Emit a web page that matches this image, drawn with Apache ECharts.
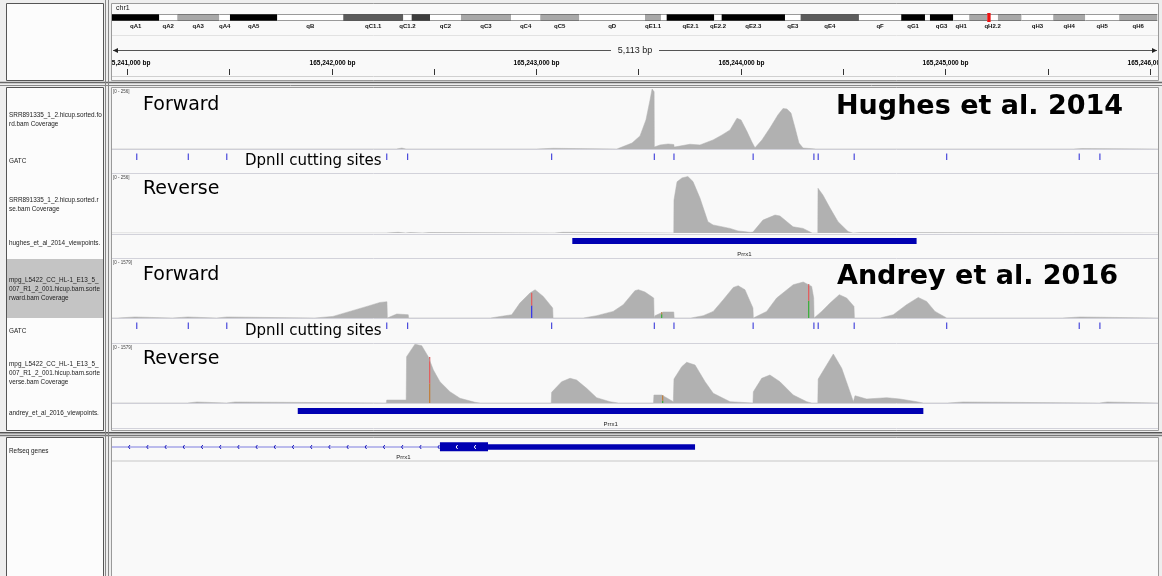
<!DOCTYPE html>
<html>
<head>
<meta charset="utf-8">
<script src="https://cdn.jsdelivr.net/npm/echarts@6/dist/echarts.min.js"></script>
<style>
  html, body { margin: 0; padding: 0; background: #eeeeee; }
  #chart { width: 1162px; height: 576px; }
</style>
</head>
<body>
<div id="chart"></div>
<script>
// visible window on chr1 (bp)
const viewStart = 165240927;
const viewEnd = 165246040;
const chrLengthMb = 197.1;

// chr1 cytobands: end (Mb), name, stain
const bandEnds = [8.91, 12.30, 20.22, 22.23, 31.15, 43.58, 54.89, 56.47, 59.92, 65.76, 75.18, 80.70, 88.05,
  100.43, 103.44, 104.52, 113.49, 114.88, 126.81, 129.76, 140.75, 148.72, 153.19, 154.13, 158.52, 161.53,
  164.93, 166.94, 171.40, 177.36, 183.39, 189.79, 196.96];
const bandNames = ['qA1', 'qA2', 'qA3', 'qA4', 'qA5', 'qB', 'qC1.1', 'qC1.2', 'qC1.3', 'qC2', 'qC3', 'qC4', 'qC5',
  'qD', 'qE1.1', 'qE1.2', 'qE2.1', 'qE2.2', 'qE2.3', 'qE3', 'qE4', 'qF', 'qG1', 'qG2', 'qG3', 'qH1',
  'qH2.1', 'qH2.2', 'qH2.3', 'qH3', 'qH4', 'qH5', 'qH6'];
const bandStains = ['gpos100', 'gneg', 'gpos33', 'gneg', 'gpos100', 'gneg', 'gpos66', 'gneg', 'gpos75', 'gneg', 'gpos33', 'gneg', 'gpos33',
  'gneg', 'gpos33', 'gneg', 'gpos100', 'gneg', 'gpos100', 'gneg', 'gpos66', 'gneg', 'gpos100', 'gneg', 'gpos100', 'gneg',
  'gpos33', 'gneg', 'gpos33', 'gneg', 'gpos33', 'gneg', 'gpos33'];
const hiddenBandLabels = ['qC1.3', 'qE1.2', 'qG2', 'qH2.1', 'qH2.3'];

// ruler ticks (bp) and the ones that carry a label
const rulerTicks = [165241000, 165241500, 165242000, 165242500, 165243000, 165243500,
  165244000, 165244500, 165245000, 165245500, 165246000];
const rulerLabelTicks = [165241000, 165242000, 165243000, 165244000, 165245000, 165246000];

// coverage profiles: [offset from viewStart (bp), depth]
const hughesFwd = [[0, 0], [1390, 0], [1398, 0], [1417, 4], [1437, 0], [2075, 0], [2082, 3], [2155, 3], [2160, 0],
  [2468, 0], [2542, 25], [2581, 55], [2610, 122], [2630, 206], [2640, 252], [2650, 240], [2651, 8], [2679, 17],
  [2718, 21], [2746, 19], [2748, 8], [2757, 15], [2825, 20], [2874, 17], [2938, 38], [2982, 59], [3021, 80],
  [3055, 129], [3075, 122], [3104, 73], [3128, 29], [3143, 5], [3177, 38], [3216, 88], [3255, 143], [3280, 170],
  [3299, 168], [3319, 151], [3339, 88], [3358, 25], [3378, 4], [3412, 2], [3441, 0], [4700, 0], [4702, 2],
  [4741, 2], [4745, 0], [5113, 0]];
const hughesRev = [[0, 0], [1340, 0], [1344, 3], [1398, 3], [1400, 0], [1435, 0], [1437, 2], [1457, 2], [1459, 0],
  [1518, 0], [1520, 2], [1554, 2], [1556, 0], [2163, 0], [2165, 3], [2204, 3], [2206, 0], [2746, 0], [2747, 143],
  [2762, 222], [2786, 239], [2815, 245], [2840, 223], [2874, 152], [2913, 49], [2938, 35], [3021, 20], [3060, 9],
  [3119, 3], [3133, 4], [3182, 56], [3241, 78], [3265, 74], [3329, 27], [3378, 20], [3422, 0], [3450, 0],
  [3451, 194], [3475, 165], [3510, 108], [3549, 49], [3598, 6], [3622, 0], [3624, 2], [3656, 2], [3658, 0], [5113, 0]];
const andreyFwd = [[0, 0], [27, 0], [29, 27], [112, 27], [114, 0], [296, 0], [298, 27], [371, 27], [373, 0],
  [511, 0], [513, 27], [562, 27], [564, 0], [992, 0], [1080, 43], [1163, 177], [1246, 310], [1310, 417],
  [1344, 436], [1346, 0], [1351, 43], [1392, 107], [1448, 88], [1450, 0], [1850, 0], [1856, 35], [1954, 88],
  [1994, 401], [2043, 669], [2068, 757], [2108, 578], [2154, 268], [2156, 0], [2304, 0], [2369, 62], [2450, 177],
  [2499, 356], [2556, 731], [2573, 757], [2605, 696], [2648, 535], [2650, 0], [2654, 62], [2695, 161], [2746, 161],
  [2748, 0], [2830, 0], [2834, 35], [2890, 62], [2939, 177], [2988, 490], [3037, 819], [3061, 864], [3094, 757],
  [3133, 268], [3135, 0], [3143, 35], [3200, 177], [3249, 535], [3330, 891], [3379, 963], [3420, 846], [3430, 535],
  [3432, 0], [3441, 43], [3469, 177], [3510, 401], [3555, 624], [3591, 535], [3627, 310], [3629, 0], [3755, 0],
  [3762, 35], [3819, 88], [3884, 356], [3941, 551], [3982, 444], [4023, 177], [4080, 0], [4646, 0], [4648, 27],
  [4732, 27], [4734, 0], [5113, 0]];
const andreyRev = [[0, 0], [369, 0], [371, 27], [415, 27], [417, 0], [560, 0], [562, 27], [601, 27], [603, 0],
  [1341, 0], [1343, 80], [1438, 80], [1440, 1239], [1481, 1575], [1514, 1533], [1546, 1239], [1571, 883],
  [1603, 570], [1652, 302], [1701, 126], [1774, 19], [1799, 0], [2147, 0], [2149, 286], [2198, 570], [2239, 661],
  [2271, 615], [2320, 393], [2369, 142], [2434, 35], [2475, 0], [2647, 0], [2649, 214], [2687, 214], [2744, 35],
  [2746, 0], [2747, 642], [2785, 971], [2809, 1089], [2850, 1017], [2899, 570], [2939, 260], [3021, 35], [3029, 0],
  [3133, 0], [3135, 302], [3176, 661], [3216, 749], [3265, 570], [3330, 214], [3396, 35], [3420, 0], [3450, 0],
  [3452, 642], [3526, 1311], [3567, 929], [3624, 35], [3632, 195], [3689, 107], [3787, 142], [3852, 107],
  [3933, 35], [3966, 0], [4084, 0], [4086, 27], [4160, 27], [4162, 0], [4827, 0], [4829, 27], [4864, 27],
  [4866, 0], [5113, 0]];

// mismatch bars: [offset, base, from depth, to depth]
const andreyFwdMismatch = [[2047, 'C', 0, 337], [2047, 'T', 337, 677], [2683, 'A', 0, 100], [2683, 'G', 100, 161],
  [3401, 'A', 0, 463], [3401, 'T', 463, 910]];
const andreyRevMismatch = [[1551, 'G', 0, 525], [1551, 'T', 525, 1230], [2687, 'A', 0, 60], [2687, 'G', 60, 214]];

// DpnII (GATC) sites, offsets from viewStart
const gatcSites = [121, 373, 561, 1343, 1445, 2149, 2651, 2747, 3134, 3431, 3452, 3628, 4080, 4728, 4829];

// viewpoint fragments [start, end] offsets
const hughesViewpoint = [2250, 3933];
const andreyViewpoint = [908, 3966];
const viewpointName = 'Prrx1';

// RefSeq gene model (offsets)
const geneName = 'Prrx1';
const geneIntron = [-4000, 1603];
const geneCds = [1603, 1838];
const geneUtr = [1838, 2850];

const stainColor = { gneg: '#ffffff', gpos33: '#a8a8a8', gpos66: '#5c5c5c', gpos75: '#3c3c3c', gpos100: '#000000' };
const baseColor = { A: '#3fae3f', C: '#3a3ae6', G: '#c08040', T: '#e06060' };
const covColor = '#b1b1b1';
const featColor = '#0000b2';
const font = '"Liberation Sans", Arial, sans-serif';
const djv = '"DejaVu Sans", sans-serif';

const fmtBp = n => n.toString().replace(/\B(?=(\d{3})+(?!\d))/g, ',') + ' bp';

const layout = [
  { top: 14, height: 7 },   // ideogram
  { top: 40, height: 36 },  // ruler
  { top: 88, height: 61 },  // Hughes forward
  { top: 150, height: 23 }, // GATC
  { top: 174, height: 59 }, // Hughes reverse
  { top: 234, height: 24 }, // Hughes viewpoint
  { top: 259, height: 59 }, // Andrey forward
  { top: 319, height: 24 }, // GATC
  { top: 344, height: 59 }, // Andrey reverse
  { top: 404, height: 24 }, // Andrey viewpoint
  { top: 438, height: 24 }  // RefSeq genes
];
const yMax = [1, 1, 256, 1, 256, 1, 1579, 1, 1579, 1, 1];

function txt(text, x, y, f, fill, align) {
  return { text, x, y, font: f, fill: fill || '#000', align: align || 'left', textAlign: align || 'left',
    verticalAlign: 'middle', textVerticalAlign: 'middle' };
}

function coverage(idx, pairs) {
  return {
    type: 'line', xAxisIndex: idx, yAxisIndex: idx, silent: true, clip: true,
    data: pairs.map(p => [viewStart + p[0], p[1]]),
    symbol: 'none', showSymbol: false,
    lineStyle: { color: covColor, width: 0.5 },
    areaStyle: { color: covColor, opacity: 1 }
  };
}

function mismatches(idx, rows) {
  return {
    type: 'custom', xAxisIndex: idx, yAxisIndex: idx, silent: true, clip: true, z: 3,
    data: rows.map(r => [viewStart + r[0], r[2], r[3]]),
    encode: { x: 0, y: [1, 2] },
    renderItem(params, api) {
      const r = rows[params.dataIndex];
      const a = api.coord([api.value(0), api.value(1)]);
      const b = api.coord([api.value(0), api.value(2)]);
      return { type: 'rect', shape: { x: Math.round(a[0]), y: b[1], width: 1.3, height: a[1] - b[1] },
        style: { fill: baseColor[r[1]] } };
    }
  };
}

function gatc(idx) {
  return {
    type: 'custom', xAxisIndex: idx, yAxisIndex: idx, silent: true, clip: true,
    data: gatcSites.map(s => [viewStart + s, 0]),
    encode: { x: 0, y: 1 },
    renderItem(params, api) {
      const x = api.coord([api.value(0), 0])[0];
      const cs = params.coordSys;
      return { type: 'rect', shape: { x: x - 0.6, y: cs.y + 3.5, width: 1.2, height: 6.5 },
        style: { fill: '#4a4adc' } };
    }
  };
}

function viewpoint(idx, span) {
  return {
    type: 'custom', xAxisIndex: idx, yAxisIndex: idx, silent: true, clip: true,
    data: [[viewStart + span[0], viewStart + span[1]]],
    encode: { x: [0, 1] },
    renderItem(params, api) {
      const a = api.coord([api.value(0), 0])[0];
      const b = api.coord([api.value(1), 0])[0];
      const cs = params.coordSys;
      return { type: 'group', children: [
        { type: 'rect', shape: { x: a, y: cs.y + 4, width: b - a, height: 6 }, style: { fill: featColor } },
        { type: 'text', style: txt(viewpointName, (a + b) / 2, cs.y + 20, '6px ' + font, '#222', 'center') }
      ] };
    }
  };
}

const series = [
  // ideogram bands
  {
    type: 'custom', xAxisIndex: 0, yAxisIndex: 0, silent: true,
    data: bandEnds.map((e, i) => [i === 0 ? 0 : bandEnds[i - 1], e]),
    encode: { x: [0, 1] },
    renderItem(params, api) {
      const i = params.dataIndex;
      const a = api.coord([api.value(0), 0])[0];
      const b = api.coord([api.value(1), 0])[0];
      const cs = params.coordSys;
      const children = [
        { type: 'rect', shape: { x: a, y: cs.y, width: b - a, height: cs.height }, style: { fill: stainColor[bandStains[i]] } },
        { type: 'line', shape: { x1: a, y1: cs.y + 0.5, x2: b, y2: cs.y + 0.5 }, style: { stroke: '#555', lineWidth: 0.6 } },
        { type: 'line', shape: { x1: a, y1: cs.y + cs.height - 0.5, x2: b, y2: cs.y + cs.height - 0.5 }, style: { stroke: '#555', lineWidth: 0.6 } }
      ];
      if (!hiddenBandLabels.includes(bandNames[i])) {
        children.push({ type: 'text', style: txt(bandNames[i], (a + b) / 2, cs.y + cs.height + 5.5, 'bold 6px ' + font, '#111', 'center') });
      }
      return { type: 'group', children };
    }
  },
  // current view marker on the ideogram
  {
    type: 'custom', xAxisIndex: 0, yAxisIndex: 0, silent: true, z: 4,
    data: [[viewStart / 1e6, viewEnd / 1e6]],
    encode: { x: [0, 1] },
    renderItem(params, api) {
      const a = api.coord([api.value(0), 0])[0];
      const b = api.coord([api.value(1), 0])[0];
      const w = Math.max(b - a, 3.4);
      const cs = params.coordSys;
      return { type: 'rect', shape: { x: (a + b) / 2 - w / 2, y: cs.y - 1, width: w, height: cs.height + 2 }, style: { fill: '#ee1111' } };
    }
  },
  // ruler ticks and labels
  {
    type: 'custom', xAxisIndex: 1, yAxisIndex: 1, silent: true, clip: true,
    data: rulerTicks.map(t => [t, 0]),
    encode: { x: 0, y: 1 },
    renderItem(params, api) {
      const t = api.value(0);
      const x = Math.round(api.coord([t, 0])[0]) + 0.5;
      const cs = params.coordSys;
      const bottom = cs.y + cs.height;
      const children = [{ type: 'line', shape: { x1: x, y1: bottom - 7, x2: x, y2: bottom - 1 }, style: { stroke: '#333', lineWidth: 1 } }];
      if (rulerLabelTicks.includes(t)) {
        children.push({ type: 'text', style: txt(fmtBp(t), x, bottom - 13, 'bold 6.5px ' + font, '#000', 'center') });
      }
      return { type: 'group', children };
    }
  },
  // span arrow with length
  {
    type: 'custom', xAxisIndex: 1, yAxisIndex: 1, silent: true,
    data: [[viewStart, viewEnd]],
    encode: { x: [0, 1] },
    renderItem(params, api) {
      const a = api.coord([api.value(0), 0])[0];
      const b = api.coord([api.value(1), 0])[0];
      const y = params.coordSys.y + 10.5;
      const c = (a + b) / 2;
      const ln = { stroke: '#555', lineWidth: 1 };
      return { type: 'group', children: [
        { type: 'line', shape: { x1: a + 1, y1: y, x2: c - 24, y2: y }, style: ln },
        { type: 'line', shape: { x1: c + 24, y1: y, x2: b - 1, y2: y }, style: ln },
        { type: 'polygon', shape: { points: [[a + 1, y], [a + 6, y - 2.5], [a + 6, y + 2.5]] }, style: { fill: '#222' } },
        { type: 'polygon', shape: { points: [[b - 1, y], [b - 6, y - 2.5], [b - 6, y + 2.5]] }, style: { fill: '#222' } },
        { type: 'text', style: txt(fmtBp(viewEnd - viewStart), c, y + 0.5, '9px ' + font, '#222', 'center') }
      ] };
    }
  },
  coverage(2, hughesFwd),
  gatc(3),
  coverage(4, hughesRev),
  viewpoint(5, hughesViewpoint),
  coverage(6, andreyFwd),
  mismatches(6, andreyFwdMismatch),
  gatc(7),
  coverage(8, andreyRev),
  mismatches(8, andreyRevMismatch),
  viewpoint(9, andreyViewpoint),
  // RefSeq gene model
  {
    type: 'custom', xAxisIndex: 10, yAxisIndex: 10, silent: true, clip: true,
    data: [[viewStart + geneIntron[0], viewStart + geneIntron[1], viewStart + geneCds[1], viewStart + geneUtr[1]]],
    encode: { x: [0, 3] },
    renderItem(params, api) {
      const cs = params.coordSys;
      const x0 = api.coord([api.value(0), 0])[0];
      const x1 = api.coord([api.value(1), 0])[0];
      const x2 = api.coord([api.value(2), 0])[0];
      const x3 = api.coord([api.value(3), 0])[0];
      const y = cs.y + 9;
      const children = [
        { type: 'line', shape: { x1: x0, y1: y, x2: x1, y2: y }, style: { stroke: '#7f7fe0', lineWidth: 1.2 } },
        { type: 'rect', shape: { x: x1, y: cs.y + 4.3, width: x2 - x1, height: 9 }, style: { fill: featColor } },
        { type: 'rect', shape: { x: x2, y: cs.y + 6.3, width: x3 - x2, height: 5.5 }, style: { fill: featColor } }
      ];
      for (let ax = cs.x + 16.5; ax < x2 - 4; ax += 18.2) {
        const inCds = ax > x1 + 2;
        children.push({ type: 'polyline', shape: { points: [[ax + 1.5, y - 2], [ax, y], [ax + 1.5, y + 2]] },
          style: { stroke: inCds ? '#ffffff' : '#1c1cc0', lineWidth: 1, fill: null } });
      }
      const vx0 = Math.max(x0, cs.x), vx1 = Math.min(x3, cs.x + cs.width);
      children.push({ type: 'text', style: txt(geneName, (vx0 + vx1) / 2, cs.y + 19.5, '6px ' + font, '#222', 'center') });
      return { type: 'group', children };
    }
  }
];

// ---- static frame, separators, and labels ----
const graphic = [];
const box = (x, y, w, h, fill, stroke) => graphic.push({ type: 'rect', z: -10, shape: { x, y, width: w, height: h }, style: { fill, stroke, lineWidth: 1 } });
const hline = (y, x1, x2, color, w) => graphic.push({ type: 'line', z: -5, shape: { x1, y1: y, x2, y2: y }, style: { stroke: color, lineWidth: w || 1 } });
const vline = (x, y1, y2, color, w) => graphic.push({ type: 'line', z: -5, shape: { x1: x, y1, x2: x, y2 }, style: { stroke: color, lineWidth: w || 1 } });
const label = (text, x, y, f, fill, extra) => graphic.push({ type: 'text', z: 50, style: Object.assign(txt(text, x, y, f, fill), extra || {}) });

box(6.5, 3.5, 97, 77, '#fcfcfc', '#555');
box(6.5, 87.5, 97, 343, '#fcfcfc', '#555');
box(6.5, 437.5, 97, 143, '#fcfcfc', '#555');
graphic.push({ type: 'rect', z: -9, shape: { x: 7, y: 259, width: 96, height: 59 }, style: { fill: '#c4c4c4' } });
box(111.5, 3.5, 1047, 77, '#f9f9f9', '#9a9a9a');
box(111.5, 87.5, 1047, 343, '#f9f9f9', '#9a9a9a');
box(111.5, 437.5, 1047, 143, '#f9f9f9', '#9a9a9a');
hline(82.5, 0, 1162, '#666', 1.5);
hline(85.5, 0, 1162, '#888', 1);
hline(432.8, 0, 1162, '#555', 1.5);
hline(435.5, 0, 1162, '#777', 1.5);
vline(105.5, 0, 576, '#888', 1);
vline(108.5, 0, 576, '#888', 1);
hline(35.5, 112, 1158, '#e2e2e2');
hline(76.5, 112, 1158, '#d0d0d0');
[149.5, 173.5, 234.5, 258.5, 318.5, 343.5, 403.5, 428.5].forEach(y => hline(y, 112, 1158, '#d2d2da'));
hline(461, 112, 1158, '#e0e0e0', 2);

label('chr1', 116, 8, '7px ' + font, '#111');

const trackLabels = [
  ['SRR891335_1_2.hicup.sorted.fo', 115], ['rd.bam Coverage', 124],
  ['GATC', 161],
  ['SRR891335_1_2.hicup.sorted.re', 200], ['se.bam Coverage', 209],
  ['hughes_et_al_2014_viewpoints.bed', 243],
  ['mpg_L5422_CC_HL-1_E13_5_C', 280], ['007_R1_2_001.hicup.bam.sorted.fo', 289], ['rward.bam Coverage', 298],
  ['GATC', 331],
  ['mpg_L5422_CC_HL-1_E13_5_C', 364], ['007_R1_2_001.hicup.bam.sorted.re', 373], ['verse.bam Coverage', 382],
  ['andrey_et_al_2016_viewpoints.bed', 413],
  ['Refseq genes', 451]
];
trackLabels.forEach(([t, y]) => label(t, 9, y, '6.4px ' + font, '#222', { width: 94, overflow: 'truncate', ellipsis: '' }));

[2, 4, 6, 8].forEach(i => label('[0 - ' + yMax[i] + ']', 113, layout[i].top + 3.5, '4.5px ' + font, '#444'));

label('Forward', 143, 105, '19px ' + djv, '#000');
label('Reverse', 143, 189, '19px ' + djv, '#000');
label('DpnII cutting sites', 245, 161, '15px ' + djv, '#000');
label('Hughes et al. 2014', 836, 107, 'bold 27px ' + djv, '#000');
label('Forward', 143, 275, '19px ' + djv, '#000');
label('Reverse', 143, 359, '19px ' + djv, '#000');
label('DpnII cutting sites', 245, 331, '15px ' + djv, '#000');
label('Andrey et al. 2016', 837, 277, 'bold 27px ' + djv, '#000');

const chart = echarts.init(document.getElementById('chart'));
chart.setOption({
  animation: false,
  backgroundColor: '#eeeeee',
  grid: layout.map(g => ({ left: 112, width: 1046, top: g.top, height: g.height, show: false })),
  xAxis: layout.map((g, i) => ({ gridIndex: i, type: 'value', show: false,
    min: i === 0 ? 0 : viewStart, max: i === 0 ? chrLengthMb : viewEnd })),
  yAxis: layout.map((g, i) => ({ gridIndex: i, type: 'value', show: false, min: 0, max: yMax[i] })),
  graphic,
  series
});
</script>
</body>
</html>
